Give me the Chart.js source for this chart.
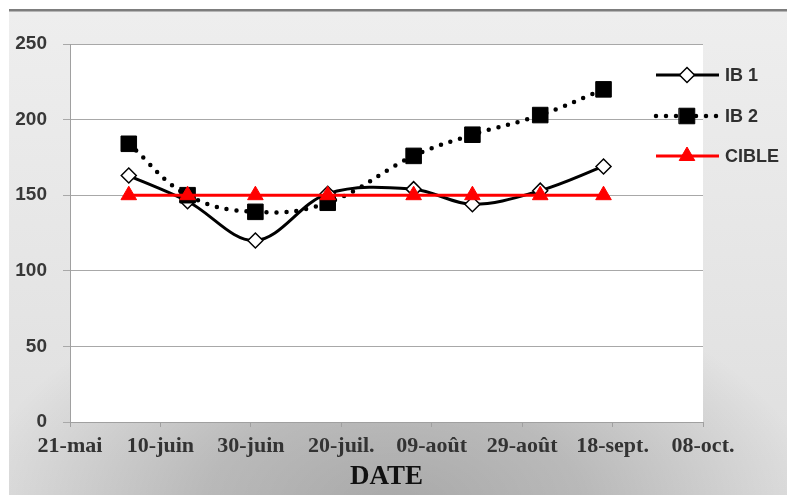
<!DOCTYPE html>
<html>
<head>
<meta charset="utf-8">
<script src="https://cdn.jsdelivr.net/npm/chart.js@4/dist/chart.umd.min.js"></script>
<style>
  html, body { margin: 0; padding: 0; background: #ffffff; }
  #wrap { width: 787px; height: 495px; }
</style>
</head>
<body>
<div id="wrap"><canvas id="c" width="787" height="495"></canvas></div>
<script>
// Measurement dates and series
const sampleDates = ['2013-06-03', '2013-06-16', '2013-07-01', '2013-07-17', '2013-08-05', '2013-08-18', '2013-09-02', '2013-09-16'];
const ib1Values = [163, 146, 120, 151, 154, 144, 153, 169];
const ib2Values = [184, 150, 139, 145, 176, 190, 203, 220];
const cibleValues = [150, 150, 150, 150, 150, 150, 150, 150];

// Axis labels
const axisStartDate = '2013-05-21';
const xTickLabels = ['21-mai', '10-juin', '30-juin', '20-juil.', '09-août', '29-août', '18-sept.', '08-oct.'];
const yTicks = [0, 50, 100, 150, 200, 250];
const seriesNames = ['IB 1', 'IB 2', 'CIBLE'];

const DAY = 86400000;
function dayOffset(iso) {
  return (Date.parse(iso + 'T00:00:00Z') - Date.parse(axisStartDate + 'T00:00:00Z')) / DAY;
}
function toPoints(values) {
  return values.map((v, i) => ({ x: dayOffset(sampleDates[i]), y: v }));
}

// Background frame, gradient and white plot area
const backgroundPlugin = {
  id: 'frameBackground',
  beforeDraw(chart) {
    const ctx = chart.ctx;
    const W = chart.width, H = chart.height;
    ctx.save();
    ctx.fillStyle = '#ffffff';
    ctx.fillRect(0, 0, W, H);

    const lin = ctx.createLinearGradient(0, 12, 0, H);
    lin.addColorStop(0, '#eeeeee');
    lin.addColorStop(1, '#dedede');
    ctx.fillStyle = lin;
    ctx.fillRect(9, 11, W - 9, H - 11);

    ctx.save();
    ctx.beginPath();
    ctx.rect(9, 11, W - 9, H - 11);
    ctx.clip();
    ctx.translate(395, H + 10);
    ctx.scale(1, 0.55);
    const rad = ctx.createRadialGradient(0, 0, 0, 0, 0, 420);
    rad.addColorStop(0, 'rgba(0,0,0,0.24)');
    rad.addColorStop(0.45, 'rgba(0,0,0,0.17)');
    rad.addColorStop(1, 'rgba(0,0,0,0)');
    ctx.fillStyle = rad;
    ctx.fillRect(-500, -900, 1000, 1000);
    ctx.restore();

    ctx.fillStyle = '#7d7d7d';
    ctx.fillRect(9, 9, W - 9, 2);
    ctx.fillStyle = '#b5b5b5';
    ctx.fillRect(9, 11, W - 9, 1);

    const a = chart.chartArea;
    ctx.fillStyle = '#ffffff';
    ctx.fillRect(a.left, a.top, a.right - a.left, a.bottom - a.top);
    ctx.restore();
  }
};

// Legend with line sample + marker, drawn to the right of the plot
const sideLegendPlugin = {
  id: 'sideLegend',
  afterDraw(chart) {
    const ctx = chart.ctx;
    const rows = [75, 116, 156];
    chart.data.datasets.forEach((ds, i) => {
      const y = rows[i];
      ctx.save();
      ctx.strokeStyle = ds.borderColor;
      ctx.lineWidth = ds.borderWidth;
      ctx.lineCap = ds.borderCapStyle || 'butt';
      ctx.setLineDash(ds.borderDash || []);
      ctx.beginPath();
      ctx.moveTo(656, y);
      ctx.lineTo(719, y);
      ctx.stroke();
      ctx.setLineDash([]);
      ctx.fillStyle = ds.pointBackgroundColor;
      ctx.strokeStyle = ds.pointBorderColor;
      ctx.lineWidth = ds.pointBorderWidth;
      Chart.helpers.drawPoint(ctx, {
        pointStyle: ds.pointStyle,
        radius: ds.pointRadius,
        rotation: 0,
        borderWidth: ds.pointBorderWidth
      }, 687, y);
      ctx.fillStyle = '#303030';
      ctx.font = 'bold 18px "Liberation Sans", Arial, sans-serif';
      ctx.textAlign = 'left';
      ctx.textBaseline = 'middle';
      ctx.fillText(ds.label, 725, y + 1);
      ctx.restore();
    });
  }
};

const chart = new Chart(document.getElementById('c'), {
  type: 'line',
  data: {
    datasets: [
      {
        label: seriesNames[0],
        data: toPoints(ib1Values),
        borderColor: '#000000',
        borderWidth: 3,
        tension: 0.35,
        pointStyle: 'rectRot',
        pointRadius: 7.5,
        pointBackgroundColor: '#ffffff',
        pointBorderColor: '#000000',
        pointBorderWidth: 1.5,
        order: 3
      },
      {
        label: seriesNames[1],
        data: toPoints(ib2Values),
        borderColor: '#000000',
        borderWidth: 4.5,
        borderDash: [0, 10],
        borderCapStyle: 'round',
        tension: 0.4,
        pointStyle: 'rect',
        pointRadius: 11,
        pointBackgroundColor: '#000000',
        pointBorderColor: '#000000',
        pointBorderWidth: 1,
        order: 2
      },
      {
        label: seriesNames[2],
        data: toPoints(cibleValues),
        borderColor: '#ff0000',
        borderWidth: 3,
        tension: 0,
        pointStyle: 'triangle',
        pointRadius: 9,
        pointBackgroundColor: '#ff0000',
        pointBorderColor: '#ff0000',
        pointBorderWidth: 1,
        order: 1
      }
    ]
  },
  options: {
    responsive: false,
    animation: false,
    events: [],
    layout: { padding: { left: 9, right: 84, top: 44, bottom: 0 } },
    plugins: {
      legend: { display: false },
      tooltip: { enabled: false }
    },
    scales: {
      x: {
        type: 'linear',
        min: 0,
        max: 140,
        afterFit(scale) { scale.height = 73; },
        afterBuildTicks(scale) {
          scale.ticks = xTickLabels.map((_, i) => ({ value: i * 20 }));
        },
        ticks: {
          autoSkip: false,
          maxRotation: 0,
          padding: 6,
          color: '#333333',
          font: { family: '"Liberation Serif", "Times New Roman", serif', size: 22, weight: 'bold' },
          callback: (v) => xTickLabels[Math.round(v / 20)]
        },
        grid: { drawOnChartArea: false, drawTicks: true, tickLength: 5, color: '#a0a0a0' },
        border: { color: '#a0a0a0', width: 1 },
        title: {
          display: true,
          text: 'DATE',
          color: '#111111',
          padding: { top: 0, bottom: 2 },
          font: { family: '"Liberation Serif", "Times New Roman", serif', size: 27, weight: 'bold' }
        }
      },
      y: {
        min: 0,
        max: 250,
        afterFit(scale) { scale.width = 61; },
        afterBuildTicks(scale) {
          scale.ticks = yTicks.map(v => ({ value: v }));
        },
        ticks: {
          padding: 16,
          color: '#383838',
          font: { family: '"Liberation Sans", Arial, sans-serif', size: 19, weight: 'bold' }
        },
        grid: { color: '#a8a8a8', lineWidth: 1, tickLength: 7 },
        border: { color: '#a0a0a0', width: 1 }
      }
    }
  },
  plugins: [backgroundPlugin, sideLegendPlugin]
});
</script>
</body>
</html>
